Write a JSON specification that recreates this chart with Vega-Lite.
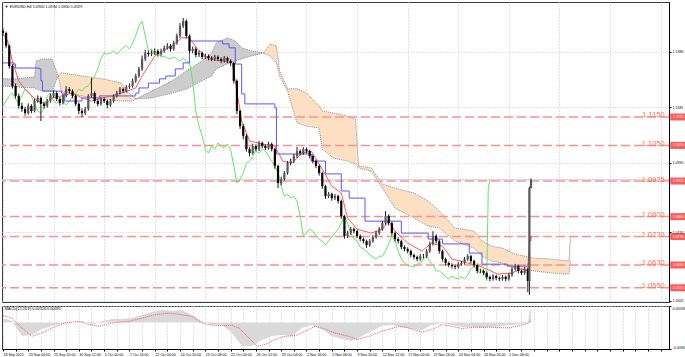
{
"$schema":"https://vega.github.io/schema/vega-lite/v6.json",
"padding":{"left":0,"top":1,"right":0,"bottom":0},
"autosize":{"type":"pad"},
"background":"white",
"spacing":2,
"config":{"font":"Liberation Sans","view":{"stroke":"#3c3c3c","strokeWidth":1},
"axis":{"labelFont":"Liberation Sans","labelFontSize":3.6,"labelColor":"#000","tickColor":"#000","domainColor":"#000","tickSize":2,"labelPadding":1,"gridColor":"#c4c4c4","gridDash":[1,2],"gridWidth":1,"labelOverlap":false,"labelBound":false,"labelFlush":false}},
"datasets":{
"cdl":[{"i":0,"o":1.1452,"h":1.1462,"l":1.1436,"c":1.1445},{"i":2,"o":1.1445,"h":1.145,"l":1.1392,"c":1.14},{"i":4,"o":1.14,"h":1.1405,"l":1.132,"c":1.1329},{"i":6,"o":1.1329,"h":1.1336,"l":1.125,"c":1.1259},{"i":8,"o":1.1259,"h":1.1268,"l":1.1215,"c":1.1224},{"i":10,"o":1.1224,"h":1.1232,"l":1.118,"c":1.1189},{"i":12,"o":1.1189,"h":1.12,"l":1.1168,"c":1.1178},{"i":14,"o":1.1178,"h":1.1186,"l":1.1155,"c":1.1164},{"i":16,"o":1.1164,"h":1.1198,"l":1.1158,"c":1.1189},{"i":18,"o":1.1189,"h":1.1195,"l":1.1163,"c":1.1171},{"i":20,"o":1.1171,"h":1.1214,"l":1.1166,"c":1.1206},{"i":22,"o":1.1206,"h":1.1226,"l":1.12,"c":1.1217},{"i":24,"o":1.1217,"h":1.1222,"l":1.1136,"c":1.1196},{"i":26,"o":1.1196,"h":1.1204,"l":1.118,"c":1.1189},{"i":28,"o":1.1189,"h":1.1213,"l":1.1183,"c":1.1206},{"i":30,"o":1.1206,"h":1.1232,"l":1.12,"c":1.1224},{"i":32,"o":1.1224,"h":1.1243,"l":1.1218,"c":1.1234},{"i":34,"o":1.1234,"h":1.124,"l":1.1206,"c":1.1213},{"i":36,"o":1.1213,"h":1.122,"l":1.119,"c":1.1199},{"i":38,"o":1.1199,"h":1.1231,"l":1.1194,"c":1.1224},{"i":40,"o":1.1224,"h":1.1258,"l":1.1219,"c":1.1248},{"i":42,"o":1.1248,"h":1.1255,"l":1.1233,"c":1.1241},{"i":44,"o":1.1241,"h":1.1247,"l":1.1216,"c":1.1224},{"i":46,"o":1.1224,"h":1.1229,"l":1.1188,"c":1.1196},{"i":48,"o":1.1196,"h":1.1201,"l":1.116,"c":1.1171},{"i":50,"o":1.1171,"h":1.118,"l":1.115,"c":1.1164},{"i":52,"o":1.1164,"h":1.1185,"l":1.1157,"c":1.1178},{"i":54,"o":1.1178,"h":1.123,"l":1.1172,"c":1.1224},{"i":56,"o":1.1224,"h":1.1287,"l":1.1218,"c":1.1234},{"i":58,"o":1.1234,"h":1.124,"l":1.1198,"c":1.1206},{"i":60,"o":1.1206,"h":1.1212,"l":1.1188,"c":1.1196},{"i":62,"o":1.1196,"h":1.122,"l":1.119,"c":1.1213},{"i":64,"o":1.1213,"h":1.1218,"l":1.1199,"c":1.1206},{"i":66,"o":1.1206,"h":1.1211,"l":1.118,"c":1.1192},{"i":68,"o":1.1192,"h":1.1213,"l":1.1186,"c":1.1206},{"i":70,"o":1.1206,"h":1.123,"l":1.12,"c":1.1224},{"i":72,"o":1.1224,"h":1.1242,"l":1.1218,"c":1.1234},{"i":74,"o":1.1234,"h":1.1255,"l":1.1229,"c":1.1248},{"i":76,"o":1.1248,"h":1.1253,"l":1.1234,"c":1.1241},{"i":78,"o":1.1241,"h":1.1262,"l":1.1236,"c":1.1255},{"i":80,"o":1.1255,"h":1.1268,"l":1.1249,"c":1.1259},{"i":82,"o":1.1259,"h":1.1285,"l":1.1253,"c":1.1277},{"i":84,"o":1.1277,"h":1.1302,"l":1.127,"c":1.1294},{"i":86,"o":1.1294,"h":1.1327,"l":1.1288,"c":1.1319},{"i":88,"o":1.1319,"h":1.1366,"l":1.1312,"c":1.1354},{"i":90,"o":1.1354,"h":1.1385,"l":1.1347,"c":1.1375},{"i":92,"o":1.1375,"h":1.1382,"l":1.1362,"c":1.1371},{"i":94,"o":1.1371,"h":1.1384,"l":1.1364,"c":1.1375},{"i":96,"o":1.1375,"h":1.1391,"l":1.1368,"c":1.1382},{"i":98,"o":1.1382,"h":1.1388,"l":1.1362,"c":1.1371},{"i":100,"o":1.1371,"h":1.139,"l":1.1365,"c":1.1382},{"i":102,"o":1.1382,"h":1.1401,"l":1.1376,"c":1.1393},{"i":104,"o":1.1393,"h":1.1409,"l":1.1387,"c":1.14},{"i":106,"o":1.14,"h":1.1406,"l":1.138,"c":1.1389},{"i":108,"o":1.1389,"h":1.1418,"l":1.1383,"c":1.141},{"i":110,"o":1.141,"h":1.1443,"l":1.1404,"c":1.1435},{"i":112,"o":1.1435,"h":1.148,"l":1.1428,"c":1.147},{"i":114,"o":1.147,"h":1.1498,"l":1.1462,"c":1.1487},{"i":116,"o":1.1487,"h":1.1493,"l":1.1426,"c":1.1435},{"i":118,"o":1.1435,"h":1.144,"l":1.1373,"c":1.1382},{"i":120,"o":1.1382,"h":1.1397,"l":1.1374,"c":1.1389},{"i":122,"o":1.1389,"h":1.1395,"l":1.136,"c":1.1368},{"i":124,"o":1.1368,"h":1.1383,"l":1.1361,"c":1.1375},{"i":126,"o":1.1375,"h":1.138,"l":1.1353,"c":1.1361},{"i":128,"o":1.1361,"h":1.1372,"l":1.1354,"c":1.1364},{"i":130,"o":1.1364,"h":1.137,"l":1.1349,"c":1.1357},{"i":132,"o":1.1357,"h":1.1364,"l":1.1346,"c":1.1354},{"i":134,"o":1.1354,"h":1.1368,"l":1.1347,"c":1.1361},{"i":136,"o":1.1361,"h":1.1366,"l":1.1346,"c":1.1354},{"i":138,"o":1.1354,"h":1.1359,"l":1.1339,"c":1.1347},{"i":140,"o":1.1347,"h":1.1364,"l":1.1341,"c":1.1357},{"i":142,"o":1.1357,"h":1.1362,"l":1.1339,"c":1.1347},{"i":144,"o":1.1347,"h":1.1353,"l":1.133,"c":1.134},{"i":146,"o":1.134,"h":1.1344,"l":1.1268,"c":1.1277},{"i":148,"o":1.1277,"h":1.1282,"l":1.116,"c":1.1171},{"i":150,"o":1.1171,"h":1.1176,"l":1.1108,"c":1.1118},{"i":152,"o":1.1118,"h":1.1125,"l":1.1072,"c":1.1083},{"i":154,"o":1.1083,"h":1.109,"l":1.1028,"c":1.1037},{"i":156,"o":1.1037,"h":1.1045,"l":1.1012,"c":1.1023},{"i":158,"o":1.1023,"h":1.1056,"l":1.1018,"c":1.1048},{"i":160,"o":1.1048,"h":1.1054,"l":1.103,"c":1.1037},{"i":162,"o":1.1037,"h":1.1066,"l":1.1031,"c":1.1059},{"i":164,"o":1.1059,"h":1.1064,"l":1.104,"c":1.1048},{"i":166,"o":1.1048,"h":1.1053,"l":1.1034,"c":1.1041},{"i":168,"o":1.1041,"h":1.1063,"l":1.1035,"c":1.1055},{"i":170,"o":1.1055,"h":1.106,"l":1.1029,"c":1.1037},{"i":172,"o":1.1037,"h":1.1042,"l":1.0968,"c":1.0978},{"i":174,"o":1.0978,"h":1.0983,"l":1.09,"c":1.0918},{"i":176,"o":1.0918,"h":1.094,"l":1.091,"c":1.0932},{"i":178,"o":1.0932,"h":1.096,"l":1.0926,"c":1.0953},{"i":180,"o":1.0953,"h":1.0995,"l":1.0947,"c":1.0988},{"i":182,"o":1.0988,"h":1.1004,"l":1.098,"c":1.0995},{"i":184,"o":1.0995,"h":1.102,"l":1.0988,"c":1.1013},{"i":186,"o":1.1013,"h":1.1045,"l":1.1006,"c":1.103},{"i":188,"o":1.103,"h":1.1036,"l":1.1015,"c":1.1023},{"i":190,"o":1.1023,"h":1.1044,"l":1.1017,"c":1.1037},{"i":192,"o":1.1037,"h":1.1042,"l":1.1022,"c":1.103},{"i":194,"o":1.103,"h":1.1035,"l":1.1005,"c":1.1013},{"i":196,"o":1.1013,"h":1.1018,"l":1.0987,"c":1.0995},{"i":198,"o":1.0995,"h":1.1,"l":1.097,"c":1.0978},{"i":200,"o":1.0978,"h":1.0983,"l":1.0944,"c":1.0953},{"i":202,"o":1.0953,"h":1.0958,"l":1.0898,"c":1.0907},{"i":204,"o":1.0907,"h":1.0912,"l":1.0862,"c":1.0872},{"i":206,"o":1.0872,"h":1.0887,"l":1.0865,"c":1.0879},{"i":208,"o":1.0879,"h":1.0884,"l":1.0856,"c":1.0865},{"i":210,"o":1.0865,"h":1.088,"l":1.0858,"c":1.0872},{"i":212,"o":1.0872,"h":1.0877,"l":1.0846,"c":1.0855},{"i":214,"o":1.0855,"h":1.086,"l":1.0792,"c":1.0802},{"i":216,"o":1.0802,"h":1.0806,"l":1.0722,"c":1.0732},{"i":218,"o":1.0732,"h":1.075,"l":1.0725,"c":1.0742},{"i":220,"o":1.0742,"h":1.0764,"l":1.0736,"c":1.0756},{"i":222,"o":1.0756,"h":1.0762,"l":1.0741,"c":1.0749},{"i":224,"o":1.0749,"h":1.0754,"l":1.0724,"c":1.0732},{"i":226,"o":1.0732,"h":1.0737,"l":1.0713,"c":1.0721},{"i":228,"o":1.0721,"h":1.0727,"l":1.0706,"c":1.0714},{"i":230,"o":1.0714,"h":1.0719,"l":1.069,"c":1.07},{"i":232,"o":1.07,"h":1.0721,"l":1.0694,"c":1.0714},{"i":234,"o":1.0714,"h":1.0735,"l":1.0708,"c":1.0728},{"i":236,"o":1.0728,"h":1.075,"l":1.0722,"c":1.0742},{"i":238,"o":1.0742,"h":1.0763,"l":1.0736,"c":1.0756},{"i":240,"o":1.0756,"h":1.0785,"l":1.075,"c":1.0777},{"i":242,"o":1.0777,"h":1.0819,"l":1.0771,"c":1.0802},{"i":244,"o":1.0802,"h":1.0808,"l":1.0769,"c":1.0777},{"i":246,"o":1.0777,"h":1.0782,"l":1.0733,"c":1.0742},{"i":248,"o":1.0742,"h":1.0747,"l":1.0712,"c":1.0721},{"i":250,"o":1.0721,"h":1.0727,"l":1.0705,"c":1.0714},{"i":252,"o":1.0714,"h":1.0719,"l":1.0685,"c":1.0693},{"i":254,"o":1.0693,"h":1.0699,"l":1.0678,"c":1.0686},{"i":256,"o":1.0686,"h":1.0692,"l":1.0671,"c":1.0679},{"i":258,"o":1.0679,"h":1.0684,"l":1.0657,"c":1.0665},{"i":260,"o":1.0665,"h":1.067,"l":1.065,"c":1.0658},{"i":262,"o":1.0658,"h":1.0663,"l":1.0643,"c":1.0651},{"i":264,"o":1.0651,"h":1.0668,"l":1.0645,"c":1.0661},{"i":266,"o":1.0661,"h":1.0669,"l":1.0653,"c":1.0661},{"i":268,"o":1.0661,"h":1.0686,"l":1.0655,"c":1.0679},{"i":270,"o":1.0679,"h":1.0712,"l":1.0673,"c":1.0704},{"i":272,"o":1.0704,"h":1.0749,"l":1.0698,"c":1.0732},{"i":274,"o":1.0732,"h":1.0738,"l":1.0706,"c":1.0714},{"i":276,"o":1.0714,"h":1.0719,"l":1.067,"c":1.0679},{"i":278,"o":1.0679,"h":1.0684,"l":1.0642,"c":1.0651},{"i":280,"o":1.0651,"h":1.0656,"l":1.0629,"c":1.0637},{"i":282,"o":1.0637,"h":1.0642,"l":1.0622,"c":1.063},{"i":284,"o":1.063,"h":1.0636,"l":1.0618,"c":1.0626},{"i":286,"o":1.0626,"h":1.0631,"l":1.0615,"c":1.0623},{"i":288,"o":1.0623,"h":1.064,"l":1.0617,"c":1.0633},{"i":290,"o":1.0633,"h":1.0645,"l":1.0627,"c":1.0637},{"i":292,"o":1.0637,"h":1.0658,"l":1.0631,"c":1.0651},{"i":294,"o":1.0651,"h":1.0668,"l":1.0645,"c":1.0661},{"i":296,"o":1.0661,"h":1.0666,"l":1.0636,"c":1.0644},{"i":298,"o":1.0644,"h":1.0649,"l":1.0622,"c":1.063},{"i":300,"o":1.063,"h":1.0635,"l":1.0601,"c":1.0609},{"i":302,"o":1.0609,"h":1.0617,"l":1.0601,"c":1.0609},{"i":304,"o":1.0609,"h":1.0614,"l":1.0594,"c":1.0602},{"i":306,"o":1.0602,"h":1.0607,"l":1.058,"c":1.0588},{"i":308,"o":1.0588,"h":1.0593,"l":1.0573,"c":1.0581},{"i":310,"o":1.0581,"h":1.0598,"l":1.0575,"c":1.0591},{"i":312,"o":1.0591,"h":1.0596,"l":1.0576,"c":1.0584},{"i":314,"o":1.0584,"h":1.0589,"l":1.0573,"c":1.0581},{"i":316,"o":1.0581,"h":1.0595,"l":1.0575,"c":1.0588},{"i":318,"o":1.0588,"h":1.0593,"l":1.0573,"c":1.0581},{"i":320,"o":1.0581,"h":1.0602,"l":1.0575,"c":1.0595},{"i":322,"o":1.0595,"h":1.0623,"l":1.0589,"c":1.0616},{"i":324,"o":1.0616,"h":1.0634,"l":1.061,"c":1.0626},{"i":326,"o":1.0626,"h":1.0631,"l":1.0601,"c":1.0609},{"i":328,"o":1.0609,"h":1.0614,"l":1.0594,"c":1.0602},{"i":330,"o":1.0602,"h":1.0623,"l":1.0596,"c":1.0616},{"i":332,"o":1.0616,"h":1.062,"l":1.0535,"c":1.0574},{"i":333,"o":1.0574,"h":1.0905,"l":1.0525,"c":1.09},{"i":334,"o":1.09,"h":1.0934,"l":1.09,"c":1.0929}],
"chi":[{"i":0,"v":1.1189},{"i":2,"v":1.1206},{"i":4,"v":1.1224},{"i":6,"v":1.1234},{"i":8,"v":1.1213},{"i":10,"v":1.1199},{"i":12,"v":1.1224},{"i":14,"v":1.1248},{"i":16,"v":1.1241},{"i":18,"v":1.1224},{"i":20,"v":1.1196},{"i":22,"v":1.1171},{"i":24,"v":1.1164},{"i":26,"v":1.1178},{"i":28,"v":1.1224},{"i":30,"v":1.1234},{"i":32,"v":1.1206},{"i":34,"v":1.1196},{"i":36,"v":1.1213},{"i":38,"v":1.1206},{"i":40,"v":1.1192},{"i":42,"v":1.1206},{"i":44,"v":1.1224},{"i":46,"v":1.1234},{"i":48,"v":1.1248},{"i":50,"v":1.1241},{"i":52,"v":1.1255},{"i":54,"v":1.1259},{"i":56,"v":1.1277},{"i":58,"v":1.1294},{"i":60,"v":1.1319},{"i":62,"v":1.1354},{"i":64,"v":1.1375},{"i":66,"v":1.1371},{"i":68,"v":1.1375},{"i":70,"v":1.1382},{"i":72,"v":1.1371},{"i":74,"v":1.1382},{"i":76,"v":1.1393},{"i":78,"v":1.14},{"i":80,"v":1.1389},{"i":82,"v":1.141},{"i":84,"v":1.1435},{"i":86,"v":1.147},{"i":88,"v":1.1487},{"i":90,"v":1.1435},{"i":92,"v":1.1382},{"i":94,"v":1.1389},{"i":96,"v":1.1368},{"i":98,"v":1.1375},{"i":100,"v":1.1361},{"i":102,"v":1.1364},{"i":104,"v":1.1357},{"i":106,"v":1.1354},{"i":108,"v":1.1361},{"i":110,"v":1.1354},{"i":112,"v":1.1347},{"i":114,"v":1.1357},{"i":116,"v":1.1347},{"i":118,"v":1.134},{"i":120,"v":1.1277},{"i":122,"v":1.1171},{"i":124,"v":1.1118},{"i":126,"v":1.1083},{"i":128,"v":1.1037},{"i":130,"v":1.1023},{"i":132,"v":1.1048},{"i":134,"v":1.1037},{"i":136,"v":1.1059},{"i":138,"v":1.1048},{"i":140,"v":1.1041},{"i":142,"v":1.1055},{"i":144,"v":1.1037},{"i":146,"v":1.0978},{"i":148,"v":1.0918},{"i":150,"v":1.0932},{"i":152,"v":1.0953},{"i":154,"v":1.0988},{"i":156,"v":1.0995},{"i":158,"v":1.1013},{"i":160,"v":1.103},{"i":162,"v":1.1023},{"i":164,"v":1.1037},{"i":166,"v":1.103},{"i":168,"v":1.1013},{"i":170,"v":1.0995},{"i":172,"v":1.0978},{"i":174,"v":1.0953},{"i":176,"v":1.0907},{"i":178,"v":1.0872},{"i":180,"v":1.0879},{"i":182,"v":1.0865},{"i":184,"v":1.0872},{"i":186,"v":1.0855},{"i":188,"v":1.0802},{"i":190,"v":1.0732},{"i":192,"v":1.0742},{"i":194,"v":1.0756},{"i":196,"v":1.0749},{"i":198,"v":1.0732},{"i":200,"v":1.0721},{"i":202,"v":1.0714},{"i":204,"v":1.07},{"i":206,"v":1.0714},{"i":208,"v":1.0728},{"i":210,"v":1.0742},{"i":212,"v":1.0756},{"i":214,"v":1.0777},{"i":216,"v":1.0802},{"i":218,"v":1.0777},{"i":220,"v":1.0742},{"i":222,"v":1.0721},{"i":224,"v":1.0714},{"i":226,"v":1.0693},{"i":228,"v":1.0686},{"i":230,"v":1.0679},{"i":232,"v":1.0665},{"i":234,"v":1.0658},{"i":236,"v":1.0651},{"i":238,"v":1.0661},{"i":240,"v":1.0661},{"i":242,"v":1.0679},{"i":244,"v":1.0704},{"i":246,"v":1.0732},{"i":248,"v":1.0714},{"i":250,"v":1.0679},{"i":252,"v":1.0651},{"i":254,"v":1.0637},{"i":256,"v":1.063},{"i":258,"v":1.0626},{"i":260,"v":1.0623},{"i":262,"v":1.0633},{"i":264,"v":1.0637},{"i":266,"v":1.0651},{"i":268,"v":1.0661},{"i":270,"v":1.0644},{"i":272,"v":1.063},{"i":274,"v":1.0609},{"i":276,"v":1.0609},{"i":278,"v":1.0602},{"i":280,"v":1.0588},{"i":282,"v":1.0581},{"i":284,"v":1.0591},{"i":286,"v":1.0584},{"i":288,"v":1.0581},{"i":290,"v":1.0588},{"i":292,"v":1.0581},{"i":294,"v":1.0595},{"i":296,"v":1.0616},{"i":298,"v":1.0626},{"i":300,"v":1.0609},{"i":302,"v":1.0602},{"i":304,"v":1.0616},{"i":306,"v":1.0574},{"i":307,"v":1.09},{"i":308,"v":1.0929}],
"ten":[{"i":0,"v":1.1442},{"i":3,"v":1.1417},{"i":6,"v":1.1347},{"i":10,"v":1.1276},{"i":15,"v":1.1241},{"i":22,"v":1.1206},{"i":27,"v":1.1196},{"i":31,"v":1.1217},{"i":37,"v":1.1224},{"i":44,"v":1.1234},{"i":50,"v":1.1217},{"i":56,"v":1.1206},{"i":63,"v":1.1217},{"i":69,"v":1.1224},{"i":75,"v":1.1234},{"i":84,"v":1.1252},{"i":88,"v":1.1294},{"i":92,"v":1.1329},{"i":96,"v":1.1364},{"i":101,"v":1.1382},{"i":107,"v":1.14},{"i":113,"v":1.1428},{"i":118,"v":1.1428},{"i":123,"v":1.1389},{"i":130,"v":1.1354},{"i":139,"v":1.1347},{"i":145,"v":1.134},{"i":148,"v":1.1241},{"i":151,"v":1.1136},{"i":156,"v":1.1066},{"i":164,"v":1.1055},{"i":172,"v":1.1048},{"i":177,"v":1.0995},{"i":183,"v":1.0988},{"i":189,"v":1.1023},{"i":195,"v":1.103},{"i":202,"v":1.0967},{"i":208,"v":1.0907},{"i":214,"v":1.0883},{"i":218,"v":1.0795},{"i":224,"v":1.0756},{"i":233,"v":1.0742},{"i":240,"v":1.0756},{"i":244,"v":1.0784},{"i":248,"v":1.0749},{"i":256,"v":1.0707},{"i":265,"v":1.0679},{"i":271,"v":1.0707},{"i":278,"v":1.0696},{"i":284,"v":1.0651},{"i":294,"v":1.0637},{"i":303,"v":1.0623},{"i":313,"v":1.0598},{"i":322,"v":1.0602},{"i":328,"v":1.0616},{"i":332,"v":1.0609},{"i":333,"v":1.0715},{"i":334,"v":1.073}],
"kij":[{"i":0,"v":1.134},{"i":7,"v":1.1336},{"i":8,"v":1.1322},{"i":23,"v":1.1319},{"i":24,"v":1.1277},{"i":25,"v":1.1241},{"i":37,"v":1.1234},{"i":39,"v":1.1206},{"i":48,"v":1.1206},{"i":50,"v":1.1217},{"i":61,"v":1.1224},{"i":80,"v":1.1224},{"i":84,"v":1.1234},{"i":86,"v":1.1252},{"i":92,"v":1.1269},{"i":99,"v":1.1284},{"i":103,"v":1.1294},{"i":109,"v":1.1319},{"i":114,"v":1.134},{"i":118,"v":1.1417},{"i":139,"v":1.1407},{"i":143,"v":1.1393},{"i":147,"v":1.1336},{"i":151,"v":1.1231},{"i":153,"v":1.1196},{"i":172,"v":1.1182},{"i":173,"v":1.102},{"i":195,"v":1.0995},{"i":204,"v":1.095},{"i":214,"v":1.089},{"i":219,"v":1.0865},{"i":229,"v":1.0784},{"i":248,"v":1.0784},{"i":252,"v":1.0742},{"i":269,"v":1.0721},{"i":278,"v":1.0704},{"i":295,"v":1.0672},{"i":303,"v":1.0633},{"i":319,"v":1.0626},{"i":332,"v":1.0633},{"i":333,"v":1.0715},{"i":334,"v":1.073}],
"cloud":[{"i":0,"t":1.1284,"u":1.1259,"k":"g","seg":"s1"},{"i":9,"t":1.1284,"u":1.1255,"k":"g","seg":"s1"},{"i":20,"t":1.1291,"u":1.1252,"k":"g","seg":"s1"},{"i":21,"t":1.1347,"u":1.1248,"k":"g","seg":"s1"},{"i":25,"t":1.1354,"u":1.1241,"k":"g","seg":"s1"},{"i":31,"t":1.1354,"u":1.1241,"k":"g","seg":"s1"},{"i":35,"t":1.1294,"u":1.1294,"k":"g","seg":"s1"},
{"i":35,"t":1.1294,"u":1.1294,"k":"o","seg":"s2"},{"i":37,"t":1.1305,"u":1.1241,"k":"o","seg":"s2"},{"i":50,"t":1.1294,"u":1.1224,"k":"o","seg":"s2"},{"i":63,"t":1.1284,"u":1.1213,"k":"o","seg":"s2"},{"i":75,"t":1.1269,"u":1.1206,"k":"o","seg":"s2"},{"i":78,"t":1.1241,"u":1.1206,"k":"o","seg":"s2"},{"i":82,"t":1.1224,"u":1.1206,"k":"o","seg":"s2"},{"i":84,"t":1.1213,"u":1.1213,"k":"o","seg":"s2"},
{"i":84,"t":1.1213,"u":1.1213,"k":"g","seg":"s3"},{"i":94,"t":1.1241,"u":1.1217,"k":"g","seg":"s3"},{"i":107,"t":1.1277,"u":1.1234,"k":"g","seg":"s3"},{"i":116,"t":1.1312,"u":1.1248,"k":"g","seg":"s3"},{"i":126,"t":1.1347,"u":1.1277,"k":"g","seg":"s3"},{"i":132,"t":1.1375,"u":1.1294,"k":"g","seg":"s3"},{"i":135,"t":1.141,"u":1.1319,"k":"g","seg":"s3"},{"i":142,"t":1.1428,"u":1.1336,"k":"g","seg":"s3"},{"i":147,"t":1.1417,"u":1.1347,"k":"g","seg":"s3"},{"i":151,"t":1.1393,"u":1.1354,"k":"g","seg":"s3"},{"i":157,"t":1.1382,"u":1.1364,"k":"g","seg":"s3"},{"i":165,"t":1.1375,"u":1.1375,"k":"g","seg":"s3"},
{"i":165,"t":1.1375,"u":1.1375,"k":"o","seg":"s4"},{"i":169,"t":1.1406,"u":1.1364,"k":"o","seg":"s4"},{"i":173,"t":1.14,"u":1.134,"k":"o","seg":"s4"},{"i":175,"t":1.1312,"u":1.1294,"k":"o","seg":"s4"},{"i":180,"t":1.1249,"u":1.1241,"k":"o","seg":"s4"},{"i":186,"t":1.1249,"u":1.1129,"k":"o","seg":"s4"},{"i":192,"t":1.1234,"u":1.1118,"k":"o","seg":"s4"},{"i":200,"t":1.1189,"u":1.1111,"k":"o","seg":"s4"},{"i":202,"t":1.1171,"u":1.1037,"k":"o","seg":"s4"},{"i":209,"t":1.1164,"u":1.1006,"k":"o","seg":"s4"},{"i":218,"t":1.1153,"u":1.0995,"k":"o","seg":"s4"},{"i":223,"t":1.1143,"u":1.0985,"k":"o","seg":"s4"},{"i":225,"t":1.0978,"u":1.0971,"k":"o","seg":"s4"},{"i":233,"t":1.0971,"u":1.096,"k":"o","seg":"s4"},{"i":240,"t":1.0914,"u":1.09,"k":"o","seg":"s4"},{"i":248,"t":1.09,"u":1.083,"k":"o","seg":"s4"},{"i":260,"t":1.0883,"u":1.0795,"k":"o","seg":"s4"},{"i":269,"t":1.0855,"u":1.0767,"k":"o","seg":"s4"},{"i":276,"t":1.082,"u":1.076,"k":"o","seg":"s4"},{"i":286,"t":1.076,"u":1.0714,"k":"o","seg":"s4"},{"i":298,"t":1.0749,"u":1.0689,"k":"o","seg":"s4"},{"i":303,"t":1.0714,"u":1.0661,"k":"o","seg":"s4"},{"i":309,"t":1.0696,"u":1.0644,"k":"o","seg":"s4"},{"i":316,"t":1.0689,"u":1.0637,"k":"o","seg":"s4"},{"i":324,"t":1.0668,"u":1.0619,"k":"o","seg":"s4"},{"i":336,"t":1.0654,"u":1.0609,"k":"o","seg":"s4"},{"i":347,"t":1.0651,"u":1.0602,"k":"o","seg":"s4"},{"i":358,"t":1.0644,"u":1.0598,"k":"o","seg":"s4"},{"i":359,"t":1.0732,"u":1.0644,"k":"o","seg":"s4"}],
"levels":[{"lv":1.115,"lab":"1.1150"},{"lv":1.105,"lab":"1.1050"},{"lv":1.0925,"lab":"1.0925"},{"lv":1.08,"lab":"1.0800"},{"lv":1.073,"lab":"1.0730"},{"lv":1.063,"lab":"1.0630"},{"lv":1.055,"lab":"1.0550"}],
"hist":[{"i":0,"m":0.0016},{"i":5.7,"m":0.0005},{"i":12,"m":-0.0049},{"i":18.3,"m":-0.0045},{"i":24.7,"m":-0.0024},{"i":31,"m":-0.0013},{"i":37.3,"m":-0.0005},{"i":43.6,"m":-0.0002},{"i":50,"m":0.0005},{"i":56.3,"m":-0.0009},{"i":62.6,"m":0.0005},{"i":69,"m":0.0013},{"i":75.3,"m":0.0013},{"i":81.6,"m":0.0016},{"i":88,"m":0.0027},{"i":94.2,"m":0.0038},{"i":100.6,"m":0.0045},{"i":106.9,"m":0.0042},{"i":113.2,"m":0.0045},{"i":119.5,"m":0.0027},{"i":125.9,"m":0.0005},{"i":132.2,"m":-0.0009},{"i":138.5,"m":-0.0009},{"i":144.8,"m":-0.0038},{"i":151.2,"m":-0.0085},{"i":157.5,"m":-0.0085},{"i":163.8,"m":-0.0063},{"i":170.1,"m":-0.0049},{"i":176.5,"m":-0.0045},{"i":182.8,"m":-0.0049},{"i":189.1,"m":-0.002},{"i":195.4,"m":-0.0009},{"i":201.8,"m":-0.0024},{"i":208.1,"m":-0.0049},{"i":214.4,"m":-0.006},{"i":220.7,"m":-0.0067},{"i":227.1,"m":-0.0049},{"i":233.4,"m":-0.0031},{"i":239.7,"m":-0.0013},{"i":246,"m":-0.0009},{"i":252.4,"m":-0.0016},{"i":258.7,"m":-0.0024},{"i":265,"m":-0.0027},{"i":271.3,"m":-0.0009},{"i":277.7,"m":-0.0002},{"i":284,"m":-0.0009},{"i":290.3,"m":-0.0016},{"i":296.6,"m":-0.0016},{"i":303,"m":-0.002},{"i":309.3,"m":-0.0016},{"i":315.6,"m":-0.0013},{"i":322,"m":-0.0009},{"i":328.3,"m":-0.0005},{"i":332,"m":-0.0005},{"i":333,"m":0.004},{"i":334,"m":0.00526}],
"sig":[{"i":0,"s":0.0025},{"i":5.7,"s":0.0016},{"i":12,"s":-0.002},{"i":18.3,"s":-0.005},{"i":24.7,"s":-0.0038},{"i":31,"s":-0.002},{"i":39.2,"s":-0.0002},{"i":48,"s":0.0004},{"i":54.4,"s":-0.0008},{"i":60.7,"s":-0.0014},{"i":67,"s":-0.0004},{"i":73.4,"s":0.0001},{"i":79.7,"s":0.0004},{"i":88,"s":0.0016},{"i":96.1,"s":0.0028},{"i":105,"s":0.0034},{"i":113.2,"s":0.0028},{"i":119.5,"s":0.0022},{"i":125.9,"s":-0.0002},{"i":134.1,"s":-0.0012},{"i":144.8,"s":-0.001},{"i":149.3,"s":-0.002},{"i":155.6,"s":-0.0056},{"i":160.7,"s":-0.0086},{"i":165.7,"s":-0.008},{"i":172,"s":-0.0062},{"i":178.4,"s":-0.005},{"i":184.7,"s":-0.0048},{"i":191,"s":-0.0032},{"i":197.3,"s":-0.0014},{"i":203.7,"s":-0.0024},{"i":210,"s":-0.0038},{"i":218.8,"s":-0.005},{"i":223.9,"s":-0.0062},{"i":231.5,"s":-0.005},{"i":239.7,"s":-0.0032},{"i":250.5,"s":-0.0014},{"i":256.8,"s":-0.002},{"i":265,"s":-0.0035},{"i":271.3,"s":-0.0026},{"i":277.7,"s":-0.0008},{"i":284,"s":-0.0014},{"i":290.3,"s":-0.0022},{"i":298.5,"s":-0.0017},{"i":307.4,"s":-0.0017},{"i":320,"s":-0.002},{"i":326.4,"s":-0.0012},{"i":332.7,"s":-0.0002},{"i":334,"s":0.00095}]
},
"vconcat":[
{"width":667,"height":300,
"layer":[
{"data":{"name":"cloud"},"mark":{"type":"area","opacity":1},"encoding":{"x":{"field":"i","type":"quantitative","scale":{"domain":[-0.6,421.3],"nice":false,"zero":false},"axis":{"values":[0,8,16,24,32,40,48,56,64,72,80,88,96,104,112,120,128,136,144,152,160,168,176,184,192,200,208,216,224,232,240,248,256,264,272,280,288,296,304,312,320,328,336,344,352,360,368,376,384,392,400,408,416],"grid":true,"labels":false,"ticks":false,"domain":false,"labelOverlap":false,"title":null}},"y":{"field":"t","type":"quantitative","scale":{"domain":[1.05,1.1554],"nice":false,"zero":false},"axis":{"orient":"right","values":[1.153,1.148,1.143,1.138,1.1335,1.1285,1.1235,1.1185,1.1135,1.109,1.104,1.099,1.094,1.0895,1.0845,1.0745,1.07,1.065,1.06,1.0505],"format":".4f","grid":true,"labelOverlap":false,"title":null}},"y2":{"field":"u"},"color":{"field":"k","type":"nominal","scale":{"domain":["g","o"],"range":["#cdcdcd","#fde0c4"]},"legend":null},"detail":{"field":"seg"}}},
{"data":{"name":"cloud"},"mark":{"type":"line","color":"#8c8c8c","strokeWidth":1,"strokeDash":[1,1]},"encoding":{"x":{"field":"i","type":"quantitative","scale":{"domain":[-0.6,421.3],"nice":false,"zero":false}},"y":{"field":"t","type":"quantitative"},"detail":{"field":"seg"}}},
{"data":{"name":"cloud"},"mark":{"type":"line","color":"#8c8c8c","strokeWidth":1,"strokeDash":[1,1]},"encoding":{"x":{"field":"i","type":"quantitative","scale":{"domain":[-0.6,421.3],"nice":false,"zero":false}},"y":{"field":"u","type":"quantitative"},"detail":{"field":"seg"}}},
{"data":{"name":"levels"},"mark":{"type":"rule","color":"#ff8e8e","strokeWidth":1.5,"strokeDash":[9,4]},"encoding":{"y":{"field":"lv","type":"quantitative"}}},
{"data":{"name":"levels"},"transform":[{"filter":"datum.lab=='1.0925'"}],"mark":{"type":"rule","color":"#c4c4c4","strokeWidth":1},"encoding":{"y":{"datum":1.0929,"type":"quantitative"}}},
{"data":{"name":"chi"},"mark":{"type":"line","color":"#62e662","strokeWidth":1},"encoding":{"x":{"field":"i","type":"quantitative","scale":{"domain":[-0.6,421.3],"nice":false,"zero":false}},"y":{"field":"v","type":"quantitative"}}},
{"data":{"name":"kij"},"mark":{"type":"line","color":"#5858ff","strokeWidth":1,"interpolate":"step-after"},"encoding":{"x":{"field":"i","type":"quantitative","scale":{"domain":[-0.6,421.3],"nice":false,"zero":false}},"y":{"field":"v","type":"quantitative"}}},
{"data":{"name":"ten"},"mark":{"type":"line","color":"#ff5757","strokeWidth":1},"encoding":{"x":{"field":"i","type":"quantitative","scale":{"domain":[-0.6,421.3],"nice":false,"zero":false}},"y":{"field":"v","type":"quantitative"}}},
{"data":{"name":"cdl"},"mark":{"type":"rule","color":"#1a1a1a","strokeWidth":1},"encoding":{"x":{"field":"i","type":"quantitative","scale":{"domain":[-0.6,421.3],"nice":false,"zero":false}},"y":{"field":"l","type":"quantitative"},"y2":{"field":"h"}}},
{"data":{"name":"cdl"},"mark":{"type":"rule","strokeWidth":2.2},"encoding":{"x":{"field":"i","type":"quantitative","scale":{"domain":[-0.6,421.3],"nice":false,"zero":false}},"y":{"field":"o","type":"quantitative"},"y2":{"field":"c"},"color":{"condition":{"test":"datum.c>datum.o","value":"#5a5a5a"},"value":"#000000"}}},
{"data":{"name":"levels"},"mark":{"type":"text","align":"right","baseline":"alphabetic","fontSize":7.5,"color":"#ff6e4e","dy":0.5},"encoding":{"x":{"datum":418.6,"type":"quantitative"},"y":{"field":"lv","type":"quantitative"},"text":{"field":"lab"}}},
{"data":{"name":"levels"},"mark":{"type":"tick","orient":"horizontal","size":16,"thickness":7,"color":"#ff1414"},"encoding":{"x":{"datum":427.2,"type":"quantitative"},"y":{"field":"lv","type":"quantitative"}}},
{"data":{"name":"levels"},"mark":{"type":"text","align":"center","baseline":"middle","fontSize":3.6,"color":"#ffffff"},"encoding":{"x":{"datum":427.2,"type":"quantitative"},"y":{"field":"lv","type":"quantitative"},"text":{"field":"lab"}}},
{"data":{"name":"levels"},"transform":[{"filter":"datum.lab=='1.1150'"}],"mark":{"type":"text","align":"left","baseline":"middle","fontSize":3.8,"color":"#000000"},"encoding":{"x":{"datum":1.2,"type":"quantitative"},"y":{"datum":1.1537,"type":"quantitative"},"text":{"value":"▼ EURUSD,H4  1.0900 1.0934 1.0900 1.0929"}}}
]},
{"width":667,"height":43,
"layer":[
{"data":{"name":"hist"},"mark":{"type":"area","color":"#d9d9d9","opacity":1},"encoding":{"x":{"field":"i","type":"quantitative","scale":{"domain":[-0.6,421.3],"nice":false,"zero":false},"axis":{"values":[0,8,16,24,32,40,48,56,64,72,80,88,96,104,112,120,128,136,144,152,160,168,176,184,192,200,208,216,224,232,240,248,256,264,272,280,288,296,304,312,320,328,336,344,352,360,368,376,384,392,400,408,416],"grid":true,"labelAlign":"left","labelOverlap":false,"labelBound":false,"labelFlush":false,"labelExpr":"(datum.value % 16 == 0 && datum.value <= 320) ? ['18 Sep 2015','23 Sep 04:00','25 Sep 20:00','30 Sep 12:00','5 Oct 00:00','7 Oct 16:00','12 Oct 04:00','14 Oct 20:00','19 Oct 08:00','22 Oct 00:00','26 Oct 12:00','29 Oct 04:00','2 Nov 16:00','5 Nov 08:00','9 Nov 20:00','12 Nov 12:00','17 Nov 00:00','19 Nov 16:00','24 Nov 04:00','26 Nov 20:00','1 Dec 08:00'][datum.value/16] : ''","title":null}},"y":{"field":"m","type":"quantitative","scale":{"domain":[-0.0096,0.00596],"nice":false,"zero":false},"axis":{"orient":"right","values":[0.00596,0,-0.0096],"labelExpr":"datum.value > 0.001 ? '0.00596' : (datum.value < -0.001 ? '-0.0096' : '0.00')","labelFlush":true,"labelOverlap":false,"grid":true,"title":null}},"y2":{"datum":0}}},
{"data":{"name":"sig"},"mark":{"type":"line","color":"#ff5050","strokeWidth":1,"strokeDash":[1,1]},"encoding":{"x":{"field":"i","type":"quantitative","scale":{"domain":[-0.6,421.3],"nice":false,"zero":false},"axis":{"values":[0,8,16,24,32,40,48,56,64,72,80,88,96,104,112,120,128,136,144,152,160,168,176,184,192,200,208,216,224,232,240,248,256,264,272,280,288,296,304,312,320,328,336,344,352,360,368,376,384,392,400,408,416],"grid":true,"labelAlign":"left","labelOverlap":false,"labelBound":false,"labelFlush":false,"labelExpr":"(datum.value % 16 == 0 && datum.value <= 320) ? ['18 Sep 2015','23 Sep 04:00','25 Sep 20:00','30 Sep 12:00','5 Oct 00:00','7 Oct 16:00','12 Oct 04:00','14 Oct 20:00','19 Oct 08:00','22 Oct 00:00','26 Oct 12:00','29 Oct 04:00','2 Nov 16:00','5 Nov 08:00','9 Nov 20:00','12 Nov 12:00','17 Nov 00:00','19 Nov 16:00','24 Nov 04:00','26 Nov 20:00','1 Dec 08:00'][datum.value/16] : ''","title":null}},"y":{"field":"s","type":"quantitative"}}},
{"data":{"name":"sig"},"transform":[{"filter":"datum.i==0"}],"mark":{"type":"text","align":"left","baseline":"middle","fontSize":3.8,"color":"#000000"},"encoding":{"x":{"datum":1.2,"type":"quantitative","axis":{"values":[0,8,16,24,32,40,48,56,64,72,80,88,96,104,112,120,128,136,144,152,160,168,176,184,192,200,208,216,224,232,240,248,256,264,272,280,288,296,304,312,320,328,336,344,352,360,368,376,384,392,400,408,416],"grid":true,"labelAlign":"left","labelOverlap":false,"labelBound":false,"labelFlush":false,"labelExpr":"(datum.value % 16 == 0 && datum.value <= 320) ? ['18 Sep 2015','23 Sep 04:00','25 Sep 20:00','30 Sep 12:00','5 Oct 00:00','7 Oct 16:00','12 Oct 04:00','14 Oct 20:00','19 Oct 08:00','22 Oct 00:00','26 Oct 12:00','29 Oct 04:00','2 Nov 16:00','5 Nov 08:00','9 Nov 20:00','12 Nov 12:00','17 Nov 00:00','19 Nov 16:00','24 Nov 04:00','26 Nov 20:00','1 Dec 08:00'][datum.value/16] : ''","title":null}},"y":{"datum":0.0049,"type":"quantitative"},"text":{"value":"MACD(12,26,9) 0.00526 0.00095"}}}
]}
]
}
